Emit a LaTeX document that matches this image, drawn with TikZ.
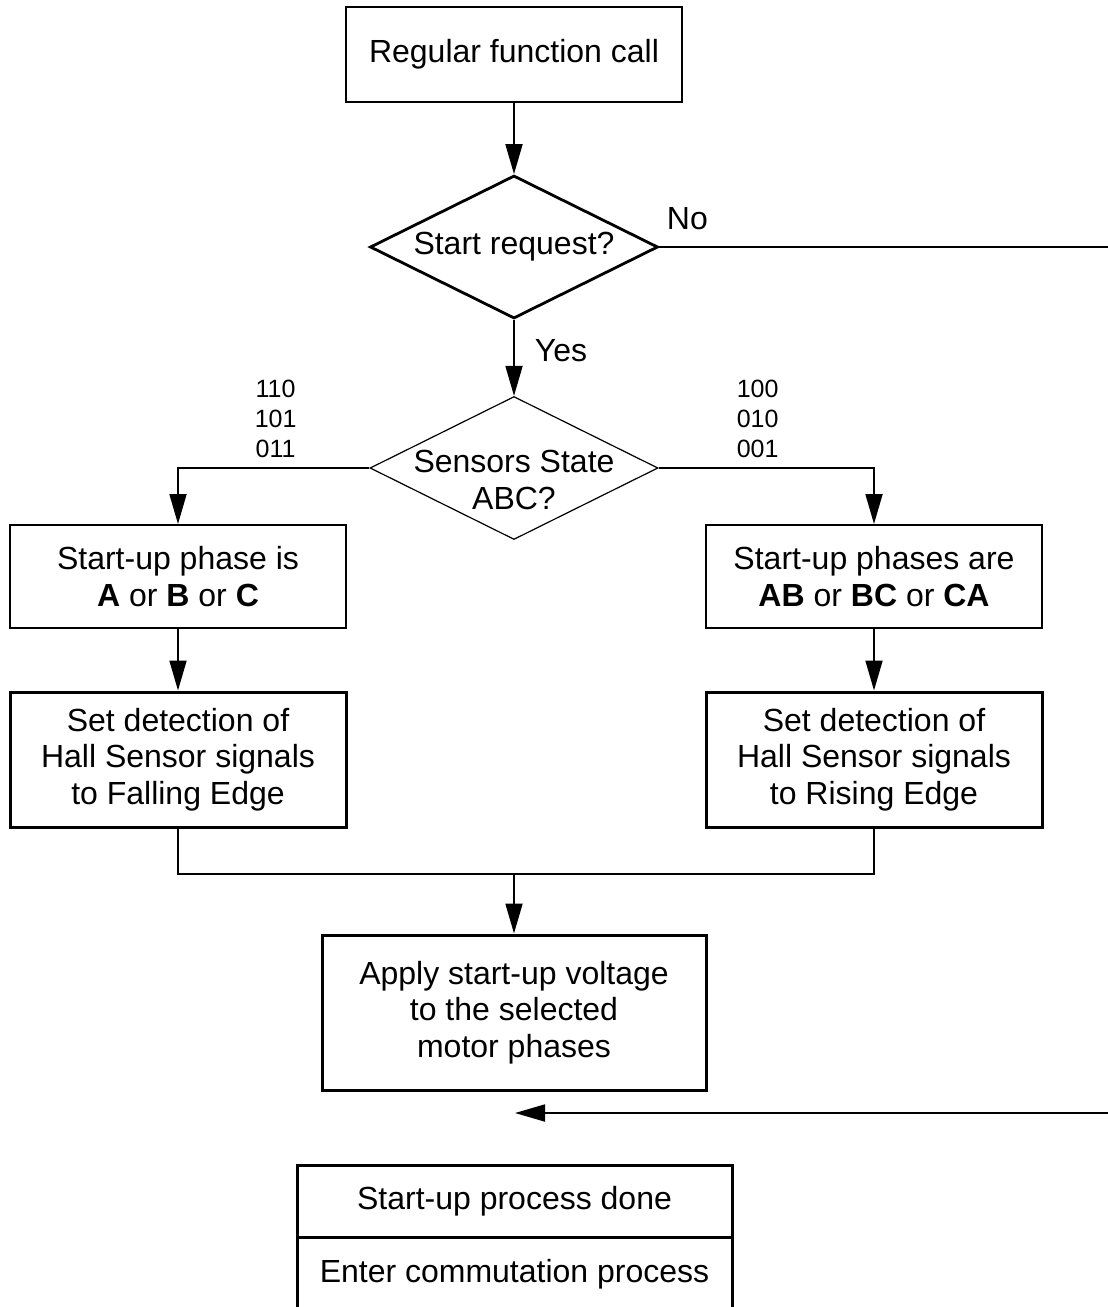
\documentclass[tikz,border=0pt]{standalone}
\usepackage{fontspec}
\setmainfont{Liberation Sans}
\usetikzlibrary{arrows.meta,shapes.geometric,positioning}

\begin{document}
\begin{tikzpicture}[
            x = 0.5pt, y = -0.5pt, % pixel grid, y downwards
            > = {Triangle[length=15pt,width=8.5pt]}, % arrow head style
            line width = 0.9pt, % connector style
            font = \fontsize{16}{18.3}\selectfont
        ]

        \tikzstyle{box}=[
            draw = black,
            line width = 1pt,
            minimum width = 168pt,
            inner sep = 0pt,
            align = center
        ]
        \tikzstyle{bigbox}=[box, line width = 1.5pt, minimum height = 67.5pt]
        \tikzstyle{ask}=[diamond, draw, line width = 1.4pt, aspect = 2,
            minimum width = 144pt, minimum height = 71.5pt, inner sep = 0pt]
        \tikzstyle{codes}=[align = center, font = \fontsize{12.5}{15}\selectfont]

        \useasboundingbox (0,0) rectangle (1108,1307);

        % top of the chart
        \node[box, minimum height = 47.5pt] (call) at (514,54.5) {Regular function call};
        \node[ask] (req) at (514,247) {Start request?};
        \node[ask, line width = 0.6pt] (state) at (514,468) {};
        \node[align = center] (stateTxt) at ([yshift=-6pt]state.center) {Sensors State\\ABC?};

        % the two branches
        \node[box, minimum height = 51.5pt] (one) at (178,576.5)
            {Start-up phase is\\\textbf{A} or \textbf{B} or \textbf{C}};
        \node[box, minimum height = 51.5pt] (two) at (874,576.5)
            {Start-up phases are\\\textbf{AB} or \textbf{BC} or \textbf{CA}};
        \node[bigbox] (fall) at (178,759.5) {Set detection of\\Hall Sensor signals\\to Falling Edge};
        \node[bigbox] (rise) at (874,759.5) {Set detection of\\Hall Sensor signals\\to Rising Edge};

        \coordinate (join) at (514,874);
        \node[bigbox, minimum width = 192pt, minimum height = 77.5pt] (apply) at (514,1012.5)
            {Apply start-up voltage\\to the selected\\motor phases};

        % end of the chart
        \node[bigbox, minimum width = 217.5pt, minimum height = 36pt] (done) at (514.5,1201)
            {Start-up process done};
        \node[bigbox, minimum width = 217.5pt, minimum height = 37pt] (enter) at (514.5,1274)
            {Enter commutation process};

        \coordinate (noEnd) at (1108,247);
        \coordinate (backStart) at (1108,1113);
        \coordinate (backEnd) at (515,1113);

        \path[->] (call) edge (req);
        \draw (req.east) -- node[anchor = base west, pos = 0, yshift = 8.75pt] {No} (noEnd);
        \path[->] (req) edge node[right, pos = 0.4, xshift = 6.7pt] {Yes} (state);
        \draw[->] (state.west) -| node[codes, above, pos = 0.245, yshift = 1.3pt] {110\\101\\011} (one.north);
        \draw[->] (state.east) -| node[codes, above, pos = 0.23, yshift = 1.3pt] {100\\010\\001} (two.north);
        \path[->] (one) edge (fall);
        \path[->] (two) edge (rise);
        \draw (fall.south) |- (join) -| (rise.south);
        \draw[->] (join) -- (apply);
        \draw[->] (backStart) -- (backEnd);

\end{tikzpicture}
\end{document}
